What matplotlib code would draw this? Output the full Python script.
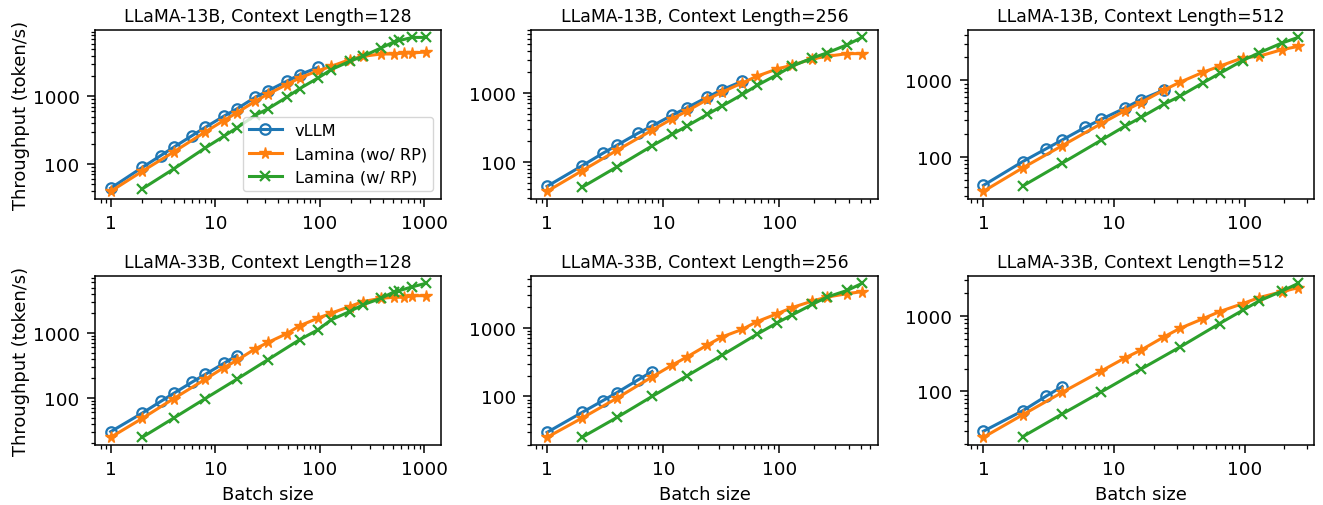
import matplotlib
matplotlib.use("Agg")
import matplotlib.pyplot as plt
from matplotlib.ticker import FuncFormatter, NullFormatter

# ---------------- data ----------------
titles = ["LLaMA-13B, Context Length=128", "LLaMA-13B, Context Length=256",
          "LLaMA-13B, Context Length=512", "LLaMA-33B, Context Length=128",
          "LLaMA-33B, Context Length=256", "LLaMA-33B, Context Length=512"]
series_labels = ["vLLM", "Lamina (wo/ RP)", "Lamina (w/ RP)"]

# Panel 1: LLaMA-13B, ctx 128
p1_vllm_x = [1, 2, 3, 4, 6, 8, 12, 16, 24, 32, 48, 64, 96]
p1_vllm_y = [44, 89, 133, 177, 263, 348, 507, 651, 967, 1214, 1666, 2091, 2682]
p1_wo_x = [1, 2, 4, 8, 12, 16, 24, 32, 48, 64, 96, 128, 192, 256, 384, 512, 640, 768, 1024]
p1_wo_y = [39.5, 78, 151, 298, 438, 569, 844, 1085, 1489, 1870, 2396, 2775, 3484, 3899,
           4229, 4229, 4375, 4375, 4529]
p1_w_x = [2, 4, 8, 12, 16, 24, 32, 48, 64, 96, 128, 192, 256, 384, 512, 576, 768, 1024]
p1_w_y = [42.9, 84.7, 173, 256, 341, 524, 658, 967, 1300, 1870, 2479, 3289, 3899, 5188,
          6400, 6700, 7436, 7436]

# Panel 2: LLaMA-13B, ctx 256
p2_vllm_x = [1, 2, 3, 4, 6, 8, 12, 16, 24, 32, 48]
p2_vllm_y = [44.2, 87.6, 132, 174, 257, 330, 476, 608, 864, 1105, 1469]
p2_wo_x = [1, 2, 4, 8, 12, 16, 24, 32, 48, 64, 96, 128, 192, 256, 384, 512]
p2_wo_y = [37.4, 74.2, 147, 286, 422, 543, 800, 1020, 1393, 1734, 2218, 2499, 3090, 3368,
           3683, 3683]
p2_w_x = [2, 4, 8, 12, 16, 24, 32, 48, 64, 96, 128, 192, 256, 384, 512]
p2_w_y = [42.8, 84.7, 170, 251, 330, 487, 641, 946, 1274, 1836, 2417, 3193, 3770, 4967, 6325]

# Panel 3: LLaMA-13B, ctx 512
p3_vllm_x = [1, 2, 3, 4, 6, 8, 12, 16, 24]
p3_vllm_y = [41.9, 86, 126, 165, 242, 310, 431, 560, 748]
p3_wo_x = [1, 2, 4, 8, 12, 16, 24, 32, 48, 64, 96, 128, 192, 256]
p3_wo_y = [35, 71.2, 139, 272, 398, 512, 748, 950, 1283, 1536, 1977, 2074, 2535, 2800]
p3_w_x = [2, 4, 8, 12, 16, 24, 32, 48, 64, 96, 128, 192, 256]
p3_w_y = [41.1, 82, 165, 249, 326, 487, 624, 933, 1234, 1823, 2297, 3101, 3671]

# Panel 4: LLaMA-33B, ctx 128
p4_vllm_x = [1, 2, 3, 4, 6, 8, 12, 16]
p4_vllm_y = [30.4, 58.6, 88.5, 118, 176, 231, 340, 450]
p4_wo_x = [1, 2, 4, 8, 12, 16, 24, 32, 48, 64, 96, 128, 192, 256, 384, 512, 640, 768, 1024]
p4_wo_y = [24.9, 48.6, 98, 194, 292, 378, 570, 718, 975, 1292, 1694, 2020, 2548, 3037,
           3423, 3545, 3545, 3750, 3750]
p4_w_x = [2, 4, 8, 16, 32, 64, 96, 128, 192, 256, 384, 512, 576, 768, 1024]
p4_w_y = [24.9, 49.2, 98, 194, 391, 790, 1123, 1596, 2137, 2704, 3423, 4300, 4500, 5145, 5800]

# Panel 5: LLaMA-33B, ctx 256
p5_vllm_x = [1, 2, 3, 4, 6, 8]
p5_vllm_y = [30.1, 58.6, 86.3, 114, 172, 230]
p5_wo_x = [1, 2, 4, 8, 12, 16, 24, 32, 48, 64, 96, 128, 192, 256, 384, 512]
p5_wo_y = [25.5, 48.5, 94.5, 192, 287, 375, 560, 731, 945, 1222, 1595, 1949, 2430, 2776,
           3110, 3325]
p5_w_x = [2, 4, 8, 16, 32, 64, 96, 128, 192, 256, 384, 512]
p5_w_y = [25.5, 49.6, 100, 199, 397, 800, 1181, 1523, 2176, 2776, 3473, 4385]

# Panel 6: LLaMA-33B, ctx 512
p6_vllm_x = [1, 2, 3, 4]
p6_vllm_y = [29.6, 55.4, 85.9, 116]
p6_wo_x = [1, 2, 4, 8, 12, 16, 24, 32, 48, 64, 96, 128, 192, 256]
p6_wo_y = [24.6, 49, 97, 187, 276, 352, 528, 688, 924, 1143, 1459, 1751, 2102, 2375]
p6_w_x = [2, 4, 8, 16, 32, 64, 96, 128, 192, 256]
p6_w_y = [25.1, 50.1, 98.8, 197, 389, 794, 1189, 1579, 2142, 2708]

panels = [
    (p1_vllm_x, p1_vllm_y, p1_wo_x, p1_wo_y, p1_w_x, p1_w_y),
    (p2_vllm_x, p2_vllm_y, p2_wo_x, p2_wo_y, p2_w_x, p2_w_y),
    (p3_vllm_x, p3_vllm_y, p3_wo_x, p3_wo_y, p3_w_x, p3_w_y),
    (p4_vllm_x, p4_vllm_y, p4_wo_x, p4_wo_y, p4_w_x, p4_w_y),
    (p5_vllm_x, p5_vllm_y, p5_wo_x, p5_wo_y, p5_w_x, p5_w_y),
    (p6_vllm_x, p6_vllm_y, p6_wo_x, p6_wo_y, p6_w_x, p6_w_y),
]

# ---------------- plot ----------------
plt.rcParams['font.family'] = ['DejaVu Sans']
fig, axes = plt.subplots(2, 3, figsize=(13.23, 5.06), dpi=100)
fig.subplots_adjust(left=0.0718, right=0.9932, top=0.9393, bottom=0.1186,
                    wspace=0.26, hspace=0.453)

fmt = FuncFormatter(lambda v, p: f"{int(round(v))}")
lw = 2.2
for i, ax in enumerate(axes.flat):
    vx, vy, ox, oy, gx, gy = panels[i]
    ax.plot(vx, vy, color='#1f77b4', marker='o', markersize=7.5, fillstyle='none',
            markeredgewidth=1.6, linewidth=lw, label=series_labels[0])
    ax.plot(ox, oy, color='#ff7f0e', marker='*', markersize=8.5, linewidth=lw,
            label=series_labels[1])
    ax.plot(gx, gy, color='#2ca02c', marker='x', markersize=7, markeredgewidth=1.6,
            linewidth=lw, label=series_labels[2])
    ax.set_xscale('log')
    ax.set_yscale('log')
    ax.xaxis.set_major_formatter(fmt)
    ax.yaxis.set_major_formatter(fmt)
    ax.xaxis.set_minor_formatter(NullFormatter())
    ax.yaxis.set_minor_formatter(NullFormatter())
    ax.tick_params(which='major', labelsize=13.2, length=5.5, width=1.1, pad=5.5)
    ax.tick_params(which='minor', length=3.2, width=0.9)
    for s in ax.spines.values():
        s.set_linewidth(1.1)
    ax.set_title(titles[i], fontsize=12.4)
    if i % 3 == 0:
        ax.set_ylabel("Throughput (token/s)", fontsize=12.9, labelpad=2)
    if i >= 3:
        ax.set_xlabel("Batch size", fontsize=12.9, labelpad=5)
    if i == 0:
        ax.legend(loc='lower right', fontsize=11.7)

fig.savefig("out.png", dpi=100)
